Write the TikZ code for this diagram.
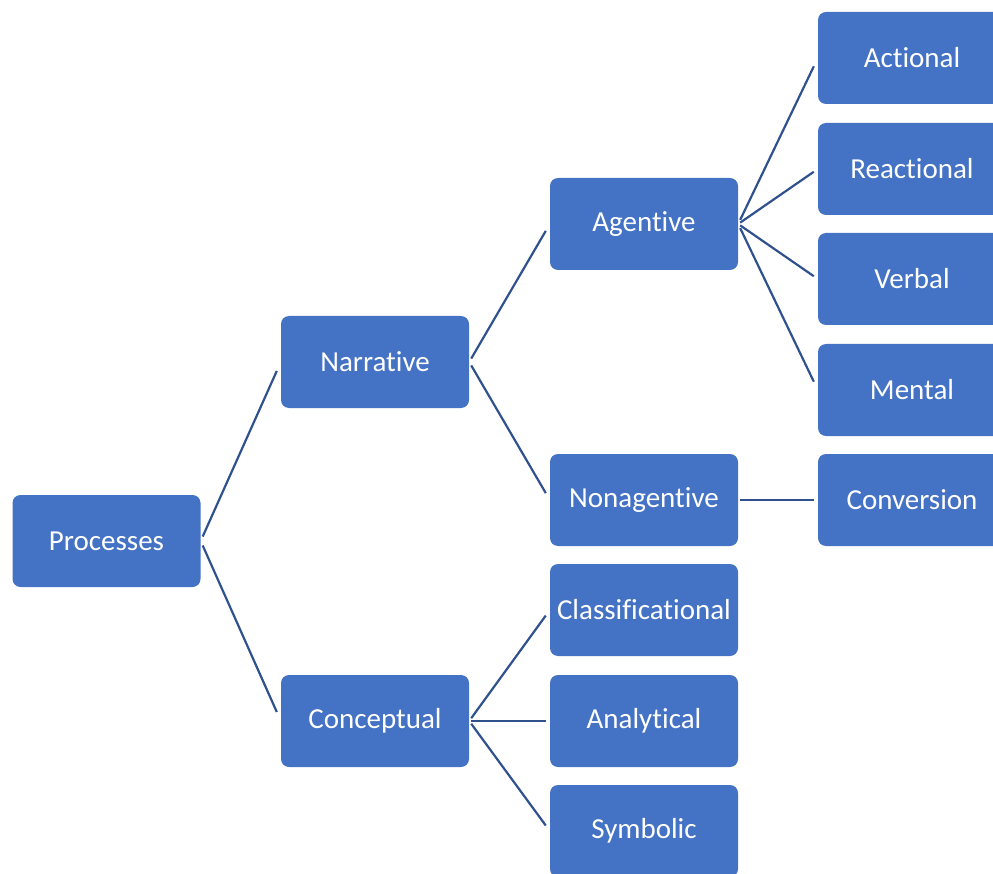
\documentclass[tikz,border=0pt]{standalone}
\usepackage{fontspec}
\setmainfont[Ligatures=NoCommon,RawFeature={-liga;-clig;-calt}]{Carlito}
\usetikzlibrary{calc}
\definecolor{boxblue}{HTML}{4472C4}
\definecolor{lineblue}{HTML}{2F528F}
\begin{document}
\begin{tikzpicture}[x=1pt,y=-1pt,
  box/.style={fill=boxblue, rounded corners=8pt, minimum width=188pt, minimum height=92pt,
    text=white, font=\fontsize{29}{33}\selectfont, inner sep=0pt},
  link/.style={draw=lineblue, line width=2.2pt}]
\useasboundingbox (0,0) rectangle (993,874);
\clip (0,0) rectangle (993,874);
% column 1
\node[box] (proc) at (106.5,541) {Processes};
% column 2
\node[box] (narr) at (375,362) {Narrative};
\node[box] (conc) at (375,721) {Conceptual};
% column 3
\node[box] (agen) at (644,224) {Agentive};
\node[box] (nona) at (644,500) {Nonagentive};
\node[box] (clas) at (644,610) {Classificational};
\node[box] (anal) at (644,721) {Analytical};
\node[box] (symb) at (644,831) {Symbolic};
% column 4
\node[box] (acti) at (912,58) {Actional};
\node[box] (reac) at (912,169) {Reactional};
\node[box] (verb) at (912,279) {Verbal};
\node[box] (ment) at (912,390) {Mental};
\node[box] (conv) at (912,500) {Conversion};
% connectors
\foreach \a/\b in {proc/narr, proc/conc, narr/agen, narr/nona, conc/clas, conc/anal, conc/symb,
                   agen/acti, agen/reac, agen/verb, agen/ment, nona/conv}
  \draw[link] ($(\a.east)!0.025!(\b.west)$) -- ($(\a.east)!0.95!(\b.west)$);
\end{tikzpicture}
\end{document}
